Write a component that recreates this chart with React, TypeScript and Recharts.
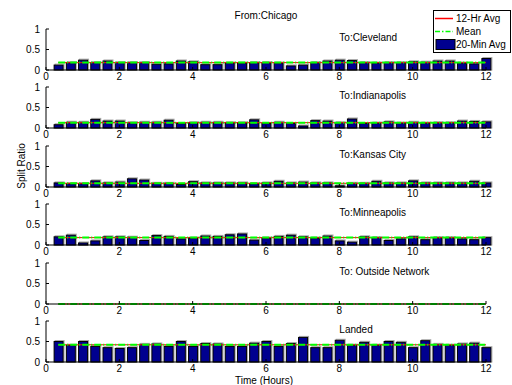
import React from 'react';
import { ComposedChart, Bar, Line, XAxis, YAxis, Legend, ReferenceDot } from 'recharts';

// 20-minute bins over 12 hours
const binMinutes = [
  20, 40, 60, 80, 100, 120, 140, 160, 180, 200, 220, 240,
  260, 280, 300, 320, 340, 360, 380, 400, 420, 440, 460, 480,
  500, 520, 540, 560, 580, 600, 620, 640, 660, 680, 700, 720,
];

const panelTitles = ['To:Cleveland', 'To:Indianapolis', 'To:Kansas City', 'To:Minneapolis', 'To: Outside Network', 'Landed'];

const cleveland = [0.12, 0.18, 0.24, 0.18, 0.22, 0.18, 0.18, 0.18, 0.14, 0.15, 0.22, 0.2, 0.13, 0.13, 0.17, 0.17, 0.18, 0.18, 0.17, 0.1, 0.12, 0.18, 0.22, 0.24, 0.23, 0.18, 0.17, 0.18, 0.18, 0.2, 0.19, 0.22, 0.22, 0.17, 0.15, 0.28];
const indianapolis = [0.08, 0.14, 0.14, 0.21, 0.17, 0.17, 0.13, 0.14, 0.14, 0.19, 0.11, 0.13, 0.14, 0.14, 0.13, 0.13, 0.2, 0.11, 0.14, 0.11, 0.05, 0.18, 0.17, 0.13, 0.22, 0.11, 0.12, 0.15, 0.12, 0.14, 0.12, 0.13, 0.13, 0.17, 0.16, 0.15];
const kansasCity = [0.1, 0.08, 0.08, 0.15, 0.1, 0.12, 0.2, 0.17, 0.09, 0.09, 0.06, 0.13, 0.1, 0.1, 0.1, 0.1, 0.08, 0.1, 0.14, 0.1, 0.12, 0.1, 0.1, 0.03, 0.09, 0.09, 0.14, 0.1, 0.1, 0.15, 0.1, 0.1, 0.1, 0.1, 0.14, 0.1];
const minneapolis = [0.2, 0.24, 0.05, 0.1, 0.2, 0.2, 0.19, 0.11, 0.23, 0.21, 0.15, 0.17, 0.22, 0.21, 0.25, 0.27, 0.12, 0.17, 0.21, 0.24, 0.2, 0.17, 0.22, 0.1, 0.07, 0.2, 0.18, 0.11, 0.15, 0.2, 0.13, 0.18, 0.18, 0.15, 0.13, 0.18];
const outsideNetwork = [0, 0, 0, 0, 0, 0, 0, 0, 0, 0, 0, 0, 0, 0, 0, 0, 0, 0, 0, 0, 0, 0, 0, 0, 0, 0, 0, 0, 0, 0, 0, 0, 0, 0, 0, 0];
const landed = [0.5, 0.41, 0.5, 0.38, 0.35, 0.33, 0.35, 0.43, 0.44, 0.38, 0.5, 0.38, 0.45, 0.44, 0.38, 0.38, 0.46, 0.5, 0.38, 0.45, 0.6, 0.35, 0.35, 0.53, 0.41, 0.48, 0.41, 0.5, 0.48, 0.35, 0.52, 0.43, 0.41, 0.44, 0.46, 0.35];

const twentyMinAvg = [cleveland, indianapolis, kansasCity, minneapolis, outsideNetwork, landed];
const twelveHrAvg = [0.18, 0.13, 0.09, 0.18, 0, 0.42];
const meanValues = [0.18, 0.13, 0.09, 0.18, 0, 0.42];

const xTicks = [0, 2, 4, 6, 8, 10, 12];
const yTicks = [0, 0.5, 1];

const NAVY = '#00008f';
const RED = '#ff0000';
const GREEN = '#00ff00';
const FONT = '"Liberation Sans", Arial, sans-serif';

const legendItems = [
  { name: '12-Hr Avg', kind: 'line', color: RED },
  { name: 'Mean', kind: 'dashdot', color: GREEN },
  { name: '20-Min Avg', kind: 'bar', color: NAVY },
];

// MATLAB-ish bar: dark outline with a grey edge offset behind it
const BarShape = (props: any) => {
  const { x, y, width, height } = props;
  if (!height || height <= 0) return null;
  return (
    <g>
      <rect x={x + 1} y={y - 1} width={width} height={height + 1} fill="none" stroke="#a8a8a8" />
      <rect x={x} y={y} width={width} height={height} fill={NAVY} stroke="#000" strokeWidth={1} />
    </g>
  );
};

const LegendBox = () => (
  <div style={{ border: '1px solid #000', background: '#fff', padding: '1px 0', fontSize: 10, lineHeight: '13px', fontFamily: FONT, color: '#000' }}>
    {legendItems.map((item) => (
      <div key={item.name} style={{ display: 'flex', alignItems: 'center', height: 13 }}>
        <svg width={22} height={13} style={{ display: 'block' }}>
          {item.kind === 'line' && <line x1={1} x2={19} y1={6.5} y2={6.5} stroke={item.color} strokeWidth={1.5} />}
          {item.kind === 'dashdot' && <line x1={1} x2={19} y1={6.5} y2={6.5} stroke={item.color} strokeWidth={1.5} strokeDasharray="5 2 1.5 2" />}
          {item.kind === 'bar' && <rect x={2} y={1.5} width={19} height={10} fill={item.color} stroke="#000" />}
        </svg>
        <span style={{ whiteSpace: 'nowrap' }}>{item.name}</span>
      </div>
    ))}
  </div>
);

const Panel = ({ idx }: { idx: number }) => {
  const first = idx === 0;
  const mt = first ? 29 : 5;
  const plotTop = 29 + idx * 58.4;
  const rows = binMinutes.map((m, i) => ({
    t: m / 60,
    v: twentyMinAvg[idx][i],
    avg: twelveHrAvg[idx],
    mean: meanValues[idx],
  }));
  return (
    <div style={{ position: 'absolute', left: 0, top: plotTop - mt }}>
      <ComposedChart width={512} height={mt + 41 + 20} data={rows} margin={{ top: mt, right: 26, bottom: 0, left: 0 }}>
        <XAxis
          type="number"
          dataKey="t"
          domain={[0, 12]}
          ticks={xTicks}
          interval={0}
          height={20}
          tickSize={-3}
          tickMargin={6}
          stroke="#000"
          tick={{ fill: '#000', fontSize: 10 }}
        />
        <YAxis
          type="number"
          domain={[0, 1]}
          ticks={yTicks}
          interval={0}
          width={46}
          tickSize={-3}
          tickMargin={9}
          stroke="#000"
          tick={{ fill: '#000', fontSize: 10 }}
        />
        <Bar dataKey="v" name="20-Min Avg" barSize={9} fill={NAVY} shape={BarShape} isAnimationActive={false} />
        <Line dataKey="avg" name="12-Hr Avg" type="linear" stroke={RED} strokeWidth={1} dot={false} isAnimationActive={false} />
        <Line dataKey="mean" name="Mean" type="linear" stroke={GREEN} strokeWidth={2} strokeDasharray="7 2 1 2" dot={false} isAnimationActive={false} />
        <ReferenceDot
          x={8}
          y={0.8}
          r={0}
          fill="none"
          stroke="none"
          label={{ value: panelTitles[idx], position: 'right', offset: 0, fill: '#000', fontSize: 10 }}
        />
        {first && (
          <Legend
            layout="vertical"
            align="center"
            verticalAlign="middle"
            content={() => <LegendBox />}
            wrapperStyle={{ left: 433, top: 10, right: 'auto', bottom: 'auto', width: 78 }}
          />
        )}
      </ComposedChart>
    </div>
  );
};

const App = () => (
  <div style={{ position: 'absolute', left: 0, top: 0, width: 512, height: 385, background: '#fff', fontFamily: FONT, overflow: 'hidden' }}>
    {panelTitles.map((_, i) => (
      <Panel key={i} idx={i} />
    ))}
    <div style={{ position: 'absolute', left: 266, top: 15, transform: 'translate(-50%, -50%)', fontSize: 10, whiteSpace: 'nowrap' }}>
      From:Chicago
    </div>
    <div style={{ position: 'absolute', left: 21, top: 166, transform: 'translate(-50%, -50%) rotate(-90deg)', fontSize: 10, whiteSpace: 'nowrap' }}>
      Split Ratio
    </div>
    <div style={{ position: 'absolute', left: 264, top: 380, transform: 'translate(-50%, -50%)', fontSize: 10, whiteSpace: 'nowrap' }}>
      Time (Hours)
    </div>
  </div>
);

export default App;
